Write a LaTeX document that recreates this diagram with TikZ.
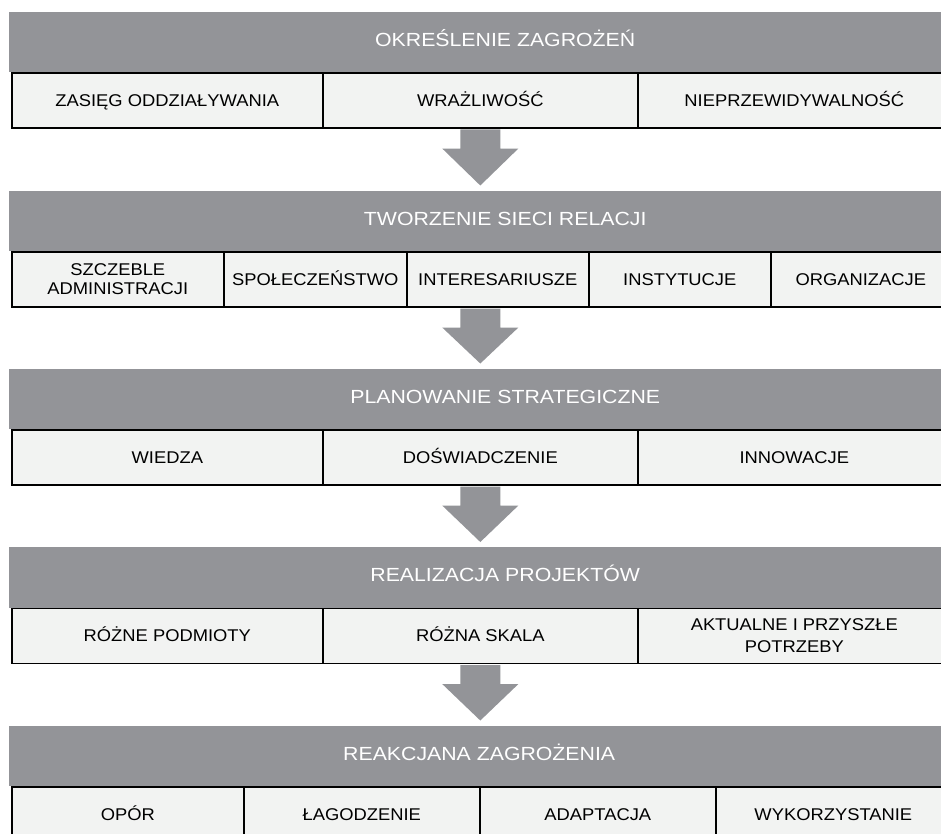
\documentclass[tikz,border=0pt]{standalone}
\usepackage{fontspec}
\usetikzlibrary{calc}
\newfontfamily\hdrfont[FakeStretch=1.12]{Liberation Sans}
\newfontfamily\cellfont[FakeStretch=1.08]{Liberation Sans}
\definecolor{bandgrey}{RGB}{147,148,152}
\definecolor{cellfill}{RGB}{242,243,242}
\newcommand{\flowarrow}[2]{%
  \fill[flow] ($(#1)+(-20,0.9)$) -- ($(#1)+(20,0.9)$) -- ($(#1)+(20,20)$) -- ($(#1)+(38,20)$)
    -- ($(#2)+(0,-5)$) -- ($(#1)+(-38,20)$) -- ($(#1)+(-20,20)$) -- cycle;}
\begin{document}
\begin{tikzpicture}[x=1pt,y=-1pt,
  band/.style={fill=bandgrey, anchor=north west, inner sep=0pt, minimum height=60.5pt,
    text=white, font=\hdrfont\fontsize{19}{22}\selectfont, text height=13.6pt, text depth=5pt},
  cellbase/.style={draw=black, line width=1.6pt, fill=cellfill, anchor=north west,
    inner sep=0pt, minimum height=55pt, text=black, font=\cellfont\fontsize{17}{19.5}\selectfont},
  cell/.style={cellbase, text height=12.2pt, text depth=0pt},
  celltwo/.style={cellbase, align=center},
  flow/.style={fill=bandgrey}]
\useasboundingbox (0,0) rectangle (941,834);
\fill[white] (0,0) rectangle (941,834);
\clip (0,0) rectangle (941,834);

% Band 1
\node[band, minimum width=992pt] (h1) at (9,11.5) {OKREŚLENIE ZAGROŻEŃ};
\node[cell, minimum width=311pt] (c1a) at (11,72) {ZASIĘG ODDZIAŁYWANIA};
\node[cell, minimum width=315pt] (c1b) at (322,72) {WRAŻLIWOŚĆ};
\node[cell, minimum width=313pt] (c1c) at (637,72) {NIEPRZEWIDYWALNOŚĆ};

% Band 2
\node[band, minimum width=992pt] (h2) at (9,190.5) {TWORZENIE SIECI RELACJI};
\node[celltwo, minimum width=212pt] (c2a) at (11,251) {SZCZEBLE\\ADMINISTRACJI};
\node[cell, minimum width=183pt] (c2b) at (223,251) {SPOŁECZEŃSTWO};
\node[cell, minimum width=182pt] (c2c) at (406,251) {INTERESARIUSZE};
\node[cell, minimum width=182pt] (c2d) at (588,251) {INSTYTUCJE};
\node[cell, minimum width=180pt] (c2e) at (770,251) {ORGANIZACJE};

% Band 3
\node[band, minimum width=992pt] (h3) at (9,368.5) {PLANOWANIE STRATEGICZNE};
\node[cell, minimum width=311pt] (c3a) at (11,429) {WIEDZA};
\node[cell, minimum width=315pt] (c3b) at (322,429) {DOŚWIADCZENIE};
\node[cell, minimum width=313pt] (c3c) at (637,429) {INNOWACJE};

% Band 4
\node[band, minimum width=992pt] (h4) at (9,547) {REALIZACJA PROJEKTÓW};
\node[cell, minimum width=311pt] (c4a) at (11,607.5) {RÓŻNE PODMIOTY};
\node[cell, minimum width=315pt] (c4b) at (322,607.5) {RÓŻNA SKALA};
\node[celltwo, minimum width=313pt] (c4c) at (637,607.5) {AKTUALNE I PRZYSZŁE\\[3pt]POTRZEBY};

% Band 5
\node[band, minimum width=940pt] (h5) at (9,725.5) {REAKCJANA ZAGROŻENIA};
\node[cell, minimum width=232pt] (c5a) at (11,786) {OPÓR};
\node[cell, minimum width=236pt] (c5b) at (243,786) {ŁAGODZENIE};
\node[cell, minimum width=236pt] (c5c) at (479,786) {ADAPTACJA};
\node[cell, minimum width=235pt] (c5d) at (715,786) {WYKORZYSTANIE};

% Arrows
\coordinate (a1s) at (c1b.south);
\coordinate (a1e) at (c1b.south |- h2.north);
\coordinate (a2s) at (c2c.south -| c1b.south);
\coordinate (a2e) at (c1b.south |- h3.north);
\coordinate (a3s) at (c3b.south);
\coordinate (a3e) at (c3b.south |- h4.north);
\coordinate (a4s) at (c4b.south);
\coordinate (a4e) at (c4b.south |- h5.north);
\flowarrow{a1s}{a1e}
\flowarrow{a2s}{a2e}
\flowarrow{a3s}{a3e}
\flowarrow{a4s}{a4e}
\end{tikzpicture}
\end{document}
